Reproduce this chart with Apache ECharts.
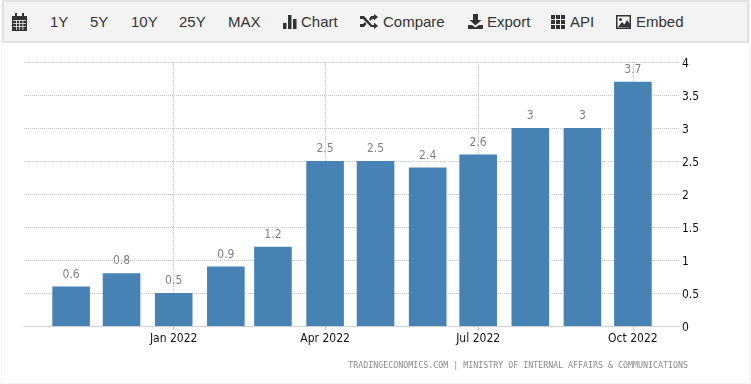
<!DOCTYPE html>
<html>
<head>
<meta charset="utf-8">
<title>Inflation rate</title>
<script src="https://cdn.jsdelivr.net/npm/echarts@6/dist/echarts.min.js"></script>
<style>
html, body { margin: 0; padding: 0; background: #fff; }
#wrap { position: relative; width: 751px; height: 384px; overflow: hidden; }
#chart { position: absolute; left: 0; top: 0; width: 751px; height: 384px; }
#frame { position: absolute; left: 1px; top: 0; width: 747px; height: 382px; border: 1px solid #f3f3f3; }
#bar { position: absolute; left: 2px; top: 0; width: 743px; height: 39px; background: #f3f3f3; border: 2px solid #e2e2e2; }
#bar span, #bar svg { position: absolute; }
#bar span { top: 10px; font: 15px/20px "Liberation Sans", Arial, sans-serif; color: #333; white-space: nowrap; }
#bar svg { fill: #333; }
</style>
</head>
<body>
<div id="wrap">
  <div id="frame"></div>
  <div id="chart"></div>
  <div id="bar">
    <svg style="left:8px;top:11px" width="15" height="18" viewBox="0 0 15 18"><path d="M0 3h15v15H0zM3 0h2v3H3zM10 0h2v3h-2z"/><path fill="#f3f3f3" d="M1 7h13v.8H1zM1 10h13v.8H1zM1 13h13v.8H1zM4 7h.8v10H4zM7 7h.8v10H7zM10.500 7h.8v10h-.8z"/></svg>
    <span style="left:46px">1Y</span>
    <span style="left:86px">5Y</span>
    <span style="left:127px">10Y</span>
    <span style="left:175px">25Y</span>
    <span style="left:224px">MAX</span>
    <svg style="left:279px;top:12px" width="15" height="15" viewBox="0 0 15 15"><path d="M0 9h3.500v6H0zM5 1h3.500v14H5zM10 5h3.500v10H10z"/></svg>
    <span style="left:297px">Chart</span>
    <svg style="left:356px;top:12px" width="18" height="15" viewBox="0 0 18 15"><path d="M0 2h4l8 9h2V8.500l4 3.500-4 3v-2h-3L3 5H0zM0 10h3l2-2 1.500 2L4 13H0zM9 5l2-3h3V0l4 3-4 3.500V5h-2l-1.500 2z"/></svg>
    <span style="left:379px">Compare</span>
    <svg style="left:464px;top:12px" width="15" height="15" viewBox="0 0 15 15"><path d="M5 0h5v6h3.500L7.500 11.500 1.500 6H5zM0 11h4l3.500 2.500L11 11h4v4H0z"/></svg>
    <span style="left:483px">Export</span>
    <svg style="left:547px;top:13px" width="14" height="14" viewBox="0 0 14 14"><path d="M0 0h4v4H0zM5 0h4v4H5zM10 0h4v4h-4zM0 5h4v4H0zM5 5h4v4H5zM10 5h4v4h-4zM0 10h4v4H0zM5 10h4v4H5zM10 10h4v4h-4z"/></svg>
    <span style="left:566px">API</span>
    <svg style="left:612px;top:13px" width="15" height="14" viewBox="0 0 15 14"><path d="M0 0h15v14H0z"/><path fill="#f3f3f3" d="M1.500 1.500h12v11h-12z"/><path d="M2 12l4-5 2.500 2.500L11 5l3 4v3.500z"/><circle cx="4.500" cy="4.500" r="1.500"/></svg>
    <span style="left:632px">Embed</span>
  </div>
</div>
<script>
var months = ['2021-11-01', '2021-12-01', '2022-01-01', '2022-02-01', '2022-03-01', '2022-04-01',
              '2022-05-01', '2022-06-01', '2022-07-01', '2022-08-01', '2022-09-01', '2022-10-01'];
var values = [0.6, 0.8, 0.5, 0.9, 1.2, 2.5, 2.5, 2.4, 2.6, 3, 3, 3.7];
var xTicks = ['2022-01-01', '2022-04-01', '2022-07-01', '2022-10-01'];
var xTickLabels = ['Jan 2022', 'Apr 2022', 'Jul 2022', 'Oct 2022'];
var xMin = '2021-10-04';
var xMax = '2022-10-29';
var source = 'TRADINGECONOMICS.COM | MINISTRY OF INTERNAL AFFAIRS & COMMUNICATIONS';

function ms(d) { return new Date(d + 'T00:00:00Z').getTime(); }

var myChart = echarts.init(document.getElementById('chart'));
var labelFont = '"DejaVu Sans Condensed", "DejaVu Sans", sans-serif';
var tickValues = xTicks.map(ms);
var dots = { color: '#c4c4c4', type: [1, 1], width: 1 };

var option = {
    animation: false,
    grid: { left: 24, right: 71, top: 62, bottom: 58 },
    xAxis: {
        type: 'value',
        min: ms(xMin),
        max: ms(xMax),
        axisLine: { show: true, onZero: false, lineStyle: dots },
        axisTick: { show: true, customValues: tickValues, length: 4, lineStyle: { color: '#c4c4c4' } },
        splitLine: { show: true, lineStyle: dots },
        axisLabel: {
            customValues: tickValues,
            margin: 7,
            color: '#111',
            fontFamily: labelFont,
            fontSize: 12,
            showMinLabel: true,
            showMaxLabel: true,
            hideOverlap: false,
            formatter: function (v) { return xTickLabels[tickValues.indexOf(v)]; }
        }
    },
    yAxis: {
        type: 'value',
        position: 'right',
        min: 0,
        max: 4,
        interval: 0.5,
        axisLine: { show: false },
        axisTick: { show: false },
        splitLine: { show: true, lineStyle: dots },
        axisLabel: {
            margin: 2,
            align: 'left',
            formatter: '{v|{value}}',
            rich: {
                // nudges the numbers down onto their grid lines
                v: { color: '#111', fontFamily: labelFont, fontSize: 12, padding: [3, 0, 0, 0] }
            }
        }
    },
    series: [{
        type: 'bar',
        barWidth: 37.6,
        itemStyle: { color: '#4682b4' },
        label: {
            show: true,
            position: 'top',
            distance: 6,
            color: '#808080',
            fontFamily: labelFont,
            fontSize: 12,
            formatter: function (p) { return p.value[1]; }
        },
        data: months.map(function (m, i) { return [ms(m), values[i]]; })
    }],
    graphic: [{
        type: 'text',
        right: 63,
        top: 362,
        style: { text: source, fill: '#8a8a8a', fontFamily: '"DejaVu Sans Mono", monospace', fontSize: 8.3 }
    }]
};
myChart.setOption(option);
</script>
</body>
</html>
